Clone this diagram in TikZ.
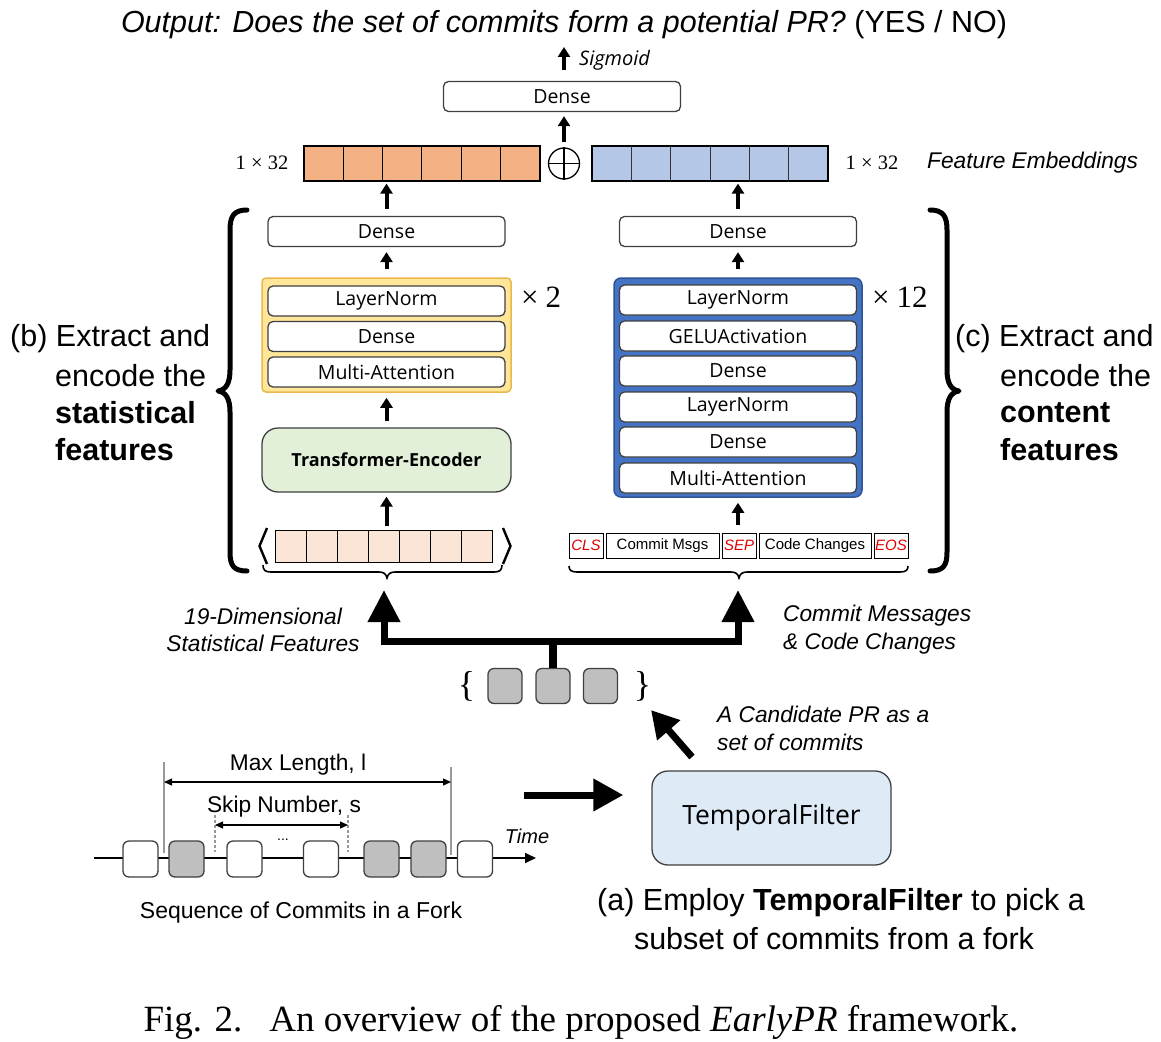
\documentclass[tikz,border=0pt]{standalone}
\usepackage{fontspec}
\setmainfont{Liberation Sans}
\newfontfamily\boxfont{Open Sans}
\newfontfamily\seriffont{Liberation Serif}
\usetikzlibrary{arrows.meta,calc}
\definecolor{orangebar}{HTML}{F4B183}
\definecolor{bluebar}{HTML}{B4C7E7}
\definecolor{yellowfill}{HTML}{FFE699}
\definecolor{yellowdraw}{HTML}{E8B84A}
\definecolor{bluefill}{HTML}{4472C4}
\definecolor{bluedraw}{HTML}{2F5597}
\definecolor{greenfill}{HTML}{E2F0D9}
\definecolor{peachfill}{HTML}{FBE5D6}
\definecolor{tffill}{HTML}{DEEBF7}
\definecolor{commitgray}{HTML}{BFBFBF}
\definecolor{edgegray}{HTML}{404040}
\definecolor{tokred}{HTML}{E00000}
\begin{document}
\begin{tikzpicture}[x=1pt,y=-1pt,
  layerbox/.style={draw=edgegray, line width=1.3pt, fill=white, rounded corners=5pt,
    minimum width=237pt, minimum height=30pt, inner sep=0pt,
    font=\boxfont\fontsize{19.5}{22}\selectfont},
  sarrow/.style={line width=4pt, -{Triangle[length=10pt,width=12pt]}},
  bigarrow/.style={line width=7pt, line join=miter, -{Triangle[length=32pt,width=31pt]}},
  bigline/.style={line width=7.5pt},
  midarrow/.style={line width=7pt, -{Triangle[length=27pt,width=29pt]}},
  token/.style={draw=black, line width=1pt, minimum height=25pt, inner sep=0pt,
    font=\fontsize{15}{17}\selectfont},
  redtok/.style={token, minimum width=34pt, text=tokred, font=\itshape\fontsize{15}{17}\selectfont},
  commit/.style={draw=edgegray, line width=1.3pt, rounded corners=6pt, minimum width=34pt,
    minimum height=35pt, inner sep=0pt},
  bigtxt/.style={font=\fontsize{30.5}{36}\selectfont, inner sep=0pt},
  medit/.style={font=\itshape\fontsize{22.7}{27}\selectfont, inner sep=0pt},
  medtxt/.style={font=\fontsize{22.7}{27}\selectfont, inner sep=0pt},
  brace/.style={line width=5pt, line cap=round, line join=round},
  smallbrace/.style={line width=1.6pt},
  timesnum/.style={font=\seriffont\fontsize{20.5}{24}\selectfont, inner sep=0pt},
  repeat/.style={font=\seriffont\fontsize{31}{34}\selectfont, inner sep=0pt, anchor=west}
]
\useasboundingbox (0,0) rectangle (1161,1041);
\fill[white] (0,0) rectangle (1161,1041);

% ---------- title ----------
\node[bigtxt, font=\fontsize{30.5}{36}\selectfont] (title) at (564,25)
  {\textit{Output: Does the set of commits form a potential PR?} (YES / NO)};
\node[layerbox] (dense0) at (562,96.5) {Dense};
\coordinate (outtop) at (564,47);
\draw[sarrow] ([yshift=11pt]dense0.north -| outtop) -- (outtop);
\node[anchor=west, inner sep=0pt, font=\boxfont\itshape\fontsize{20}{24}\selectfont] (sig) at (579,60) {Sigmoid};

% ---------- feature embeddings ----------
\node[draw=black, line width=1.2pt, fill=orangebar, minimum width=236pt, minimum height=35pt, inner sep=0pt] (orb) at (422,163.5) {};
\foreach \i in {1,...,5} \draw[line width=1pt] (304+\i*39.33,146) -- (304+\i*39.33,181);
\node[draw=black, line width=1.2pt, fill=bluebar, minimum width=236pt, minimum height=35pt, inner sep=0pt] (blb) at (710,163.5) {};
\foreach \i in {1,...,5} \draw[line width=1pt, black!80] (592+\i*39.33,146) -- (592+\i*39.33,181);
\node[draw=black, line width=1.3pt, circle, minimum size=31pt, inner sep=0pt] (plus) at (564,163.5) {};
\draw[line width=1.3pt] (plus.north) -- (plus.south) (plus.west) -- (plus.east);
\draw[sarrow, shorten <=5pt, shorten >=4pt] (plus.north) -- (plus.north |- dense0.south);
\node[timesnum] (l132) at (262,163) {1 × 32};
\node[timesnum] (r132) at (872,163) {1 × 32};
\node[medit, anchor=west] (fe) at (927,163) {Feature Embeddings};

% ---------- left column ----------
\node[layerbox] (ldense) at (386.5,231.5) {Dense};
\node[draw=yellowdraw, line width=1.5pt, fill=yellowfill, rounded corners=4pt, minimum width=249pt, minimum height=114pt, inner sep=0pt] (ybox) at (386.5,335) {};
\node[layerbox] (lln) at (386.5,301) {LayerNorm};
\node[layerbox] (lde) at (386.5,336.5) {Dense};
\node[layerbox] (lma) at (386.5,372) {Multi-Attention};
\node[repeat] (x2) at (521,297) {×\hspace{7pt}2};
\node[draw=edgegray, line width=1.3pt, fill=greenfill, rounded corners=16pt, minimum width=249pt, minimum height=64pt, inner sep=0pt,
  font=\boxfont\bfseries\fontsize{18}{22}\selectfont] (enc) at (386.5,460) {Transformer-Encoder};
\node[draw=black, line width=1pt, fill=peachfill, minimum width=217pt, minimum height=32pt, inner sep=0pt] (vec) at (383.5,546) {};
\foreach \i in {1,...,6} \draw[line width=1pt] (275+\i*31,530) -- (275+\i*31,562);
\draw[line width=2.4pt] (267,528) -- (259.5,546) -- (267,564);
\draw[line width=2.4pt] (503,528) -- (510.5,546) -- (503,564);
\draw[smallbrace] (263,565) .. controls (263,570) and (265,572) .. (271,572) -- (379,572)
  .. controls (384,572) and (386,574) .. (387,578) .. controls (388,574) and (390,572) .. (395,572)
  -- (494,572) .. controls (500,572) and (502,570) .. (502,565);
\coordinate (lbt) at (384,578);

\draw[sarrow, shorten <=4pt, shorten >=4pt] (vec.north -| enc.south) -- (enc.south);
\draw[sarrow, shorten <=6pt, shorten >=5pt] (enc.north) -- (ybox.south);
\draw[sarrow, shorten <=8pt, shorten >=5pt] (ybox.north) -- (ldense.south);
\draw[sarrow, shorten <=7pt, shorten >=2pt] (ldense.north) -- (ldense.north |- orb.south);

% ---------- right column ----------
\node[layerbox] (rdense) at (738,231.5) {Dense};
\node[draw=bluedraw, line width=1.5pt, fill=bluefill, rounded corners=7pt, minimum width=248pt, minimum height=219pt, inner sep=0pt] (bbox) at (738,387.5) {};
\node[layerbox] (rln1) at (738,300) {LayerNorm};
\node[layerbox] (rgelu) at (738,336) {GELUActivation};
\node[layerbox] (rde1) at (738,371) {Dense};
\node[layerbox] (rln2) at (738,407) {LayerNorm};
\node[layerbox] (rde2) at (738,442) {Dense};
\node[layerbox] (rma) at (738,478) {Multi-Attention};
\node[repeat] (x12) at (872,297) {×\hspace{7pt}12};

\node[redtok] (cls) at (586,545.5) {CLS};
\node[token, minimum width=113pt] (cmsg) at (662.5,545.5) {Commit Msgs};
\node[redtok] (sep) at (739,545.5) {SEP};
\node[token, minimum width=112pt] (cchg) at (815,545.5) {Code Changes};
\node[redtok] (eos) at (891,545.5) {EOS};
\draw[smallbrace] (569,566) .. controls (569,570) and (571,572) .. (577,572) -- (731,572)
  .. controls (736,572) and (738,574) .. (739,578) .. controls (740,574) and (742,572) .. (747,572)
  -- (900,572) .. controls (906,572) and (908,570) .. (908,566);
\coordinate (rbt) at (738,578);

\draw[sarrow, shorten <=8pt, shorten >=5pt] (sep.north -| bbox.south) -- (bbox.south);
\draw[sarrow, shorten <=8pt, shorten >=5pt] (bbox.north) -- (rdense.south);
\draw[sarrow, shorten <=7pt, shorten >=2pt] (rdense.north) -- (rdense.north |- blb.south);

% ---------- big braces ----------
\draw[brace] (247,210) .. controls (234,210) and (230,216) .. (230,230) -- (230,370)
  .. controls (230,383) and (226,390) .. (218,391) .. controls (226,392) and (230,399) .. (230,412)
  -- (230,552) .. controls (230,566) and (234,571) .. (247,571);
\draw[brace] (930,210) .. controls (943,210) and (947,216) .. (947,230) -- (947,370)
  .. controls (947,383) and (951,390) .. (959,391) .. controls (951,392) and (947,399) .. (947,412)
  -- (947,552) .. controls (947,566) and (943,571) .. (930,571);

\node[bigtxt, anchor=west] (b1) at (10,339) {(b) Extract and};
\node[bigtxt, anchor=west] (b2) at (55,376) {encode the};
\node[bigtxt, anchor=west, font=\bfseries\fontsize{30.5}{36}\selectfont] (b3) at (55,413) {statistical};
\node[bigtxt, anchor=west, font=\bfseries\fontsize{30.5}{36}\selectfont] (b4) at (55,450) {features};
\node[bigtxt, anchor=west] (c1) at (955,339) {(c) Extract and};
\node[bigtxt, anchor=west] (c2t) at (1000,376) {encode the};
\node[bigtxt, anchor=west, font=\bfseries\fontsize{30.5}{36}\selectfont] (c3) at (1000,413) {content};
\node[bigtxt, anchor=west, font=\bfseries\fontsize{30.5}{36}\selectfont] (c4) at (1000,450) {features};

% ---------- labels of inputs ----------
\node[medit] (sf1) at (263,616) {19-Dimensional};
\node[medit] (sf2) at (263,643) {Statistical Features};
\node[medit, anchor=west] (cm1) at (783,616) {Commit Messages};
\node[medit, anchor=west] (cm2) at (783,644) {\& Code Changes};

% ---------- candidate commit set ----------
\node[commit, fill=commitgray] (s1) at (505,686) {};
\node[commit, fill=commitgray] (s2) at (553,686) {};
\node[commit, fill=commitgray] (s3) at (600.5,686) {};
\node[inner sep=0pt, font=\seriffont\fontsize{36}{40}\selectfont] (lbr) at (466.5,686) {\{};
\node[inner sep=0pt, font=\seriffont\fontsize{36}{40}\selectfont] (rbr) at (642.5,686) {\}};
\coordinate (jn) at (553,641.5);
\draw[bigline] (s2.north) -- (jn);
\draw[bigarrow, shorten >=12pt] ($(jn)+(3.5,0)$) -| (lbt);
\draw[bigarrow, shorten >=12pt] ($(jn)+(-3.5,0)$) -| (rbt);

% ---------- temporal filter ----------
\node[draw=edgegray, line width=1.3pt, fill=tffill, rounded corners=16pt, minimum width=239pt, minimum height=94pt, inner sep=0pt,
  font=\boxfont\fontsize{26.5}{30}\selectfont] (tf) at (771.5,818) {TemporalFilter};
\coordinate (ctail) at (692,757);
\coordinate (chead) at (651,710);
\draw[midarrow] (ctail) -- (chead);
\node[medit, anchor=west] (cand1) at (717,714) {A Candidate PR as a};
\node[medit, anchor=west] (cand2) at (717,742) {set of commits};
\node[bigtxt] (a1) at (841,903) {(a) Employ \textbf{TemporalFilter} to pick a};
\node[bigtxt] (a2) at (834,939) {subset of commits from a fork};

% ---------- timeline ----------
\coordinate (tstart) at (94,858);
\coordinate (tend) at (536,858);
\draw[line width=1.8pt, -{Triangle[length=11pt,width=10pt]}] (tstart) -- (tend);
\node[commit, fill=white, minimum width=35pt, minimum height=36pt] (t1) at (140.5,859) {};
\node[commit, fill=commitgray, minimum width=35pt, minimum height=36pt] (t2) at (186.5,859) {};
\node[commit, fill=white, minimum width=35pt, minimum height=36pt] (t3) at (244.5,859) {};
\node[commit, fill=white, minimum width=35pt, minimum height=36pt] (t4) at (321,859) {};
\node[commit, fill=commitgray, minimum width=35pt, minimum height=36pt] (t5) at (381.5,859) {};
\node[commit, fill=commitgray, minimum width=35pt, minimum height=36pt] (t6) at (428.5,859) {};
\node[commit, fill=white, minimum width=35pt, minimum height=36pt] (t7) at (475,859) {};
\node[inner sep=0pt, font=\fontsize{14}{16}\selectfont] (dots) at (283,840) {...};
\draw[line width=1.5pt, black!40] (164,762) -- (164,853);
\draw[line width=1.5pt, black!40] (451,767) -- (451,855);
\draw[line width=1.5pt, black!40, dash pattern=on 3pt off 2pt] (215,815) -- (215,852);
\draw[line width=1.5pt, black!40, dash pattern=on 3pt off 2pt] (348,815) -- (348,852);
\draw[line width=1.3pt, {Triangle[length=8pt,width=7pt]}-{Triangle[length=8pt,width=7pt]}] (164,782) -- (451,782);
\draw[line width=1.3pt, {Triangle[length=8pt,width=7pt]}-{Triangle[length=8pt,width=7pt]}] (215,825) -- (348,825);
\node[medtxt] (ml) at (298,765) {Max Length, l};
\node[medtxt] (sn) at (284,807) {Skip Number, s};
\node[inner sep=0pt, font=\itshape\fontsize{20}{24}\selectfont] (time) at (527,836) {Time};
\node[medtxt, font=\fontsize{23}{27}\selectfont] (seq) at (301,913) {Sequence of Commits in a Fork};
\coordinate (ftail) at (524,795);
\draw[bigarrow, -{Triangle[length=30pt,width=31pt]}] (ftail) -- ([xshift=-28pt]tf.west |- ftail);

% ---------- caption ----------
\node[inner sep=0pt, font=\seriffont\fontsize{37}{40}\selectfont] (cap) at (581,1022)
  {Fig. 2.\hspace{0.4em} An overview of the proposed \textit{EarlyPR} framework.};
\end{tikzpicture}
\end{document}
